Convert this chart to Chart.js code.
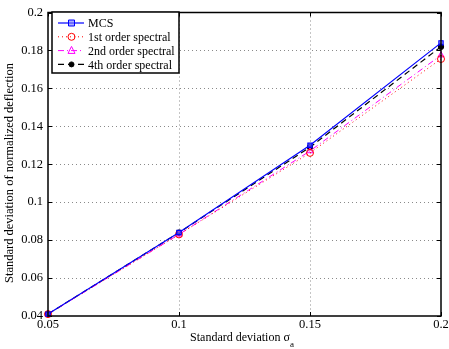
<!DOCTYPE html>
<html>
<head>
<meta charset="utf-8">
<script src="https://cdn.jsdelivr.net/npm/chart.js@4"></script>
<style>
  html, body { margin: 0; padding: 0; background: #fff; }
  #wrap { width: 449px; height: 349px; }
</style>
</head>
<body>
<div id="wrap"><canvas id="c" width="449" height="349"></canvas></div>
<script>
// data
const sigma = [0.05, 0.1, 0.15, 0.2];
const mcs = [0.041, 0.084, 0.130, 0.184];
const first = [0.041, 0.083, 0.126, 0.1755];
const second = [0.041, 0.083, 0.127, 0.1775];
const fourth = [0.041, 0.084, 0.129, 0.182];
const seriesNames = ['MCS', '1st order spectral', '2nd order spectral', '4th order spectral'];
const xTicks = [0.05, 0.1, 0.15, 0.2];
const yTicks = [0.04, 0.06, 0.08, 0.1, 0.12, 0.14, 0.16, 0.18, 0.2];

const FONT = '"Liberation Serif", "DejaVu Serif", serif';

const pts = (ys) => sigma.map((x, i) => ({ x: x, y: ys[i] }));

// dotted grid, drawn from the scales
const dottedGrid = {
  id: 'dottedGrid',
  beforeDatasetsDraw(chart) {
    const c = chart.ctx, a = chart.chartArea;
    const xs = chart.scales.x, ys = chart.scales.y;
    c.save();
    c.strokeStyle = '#8a8a8a';
    c.lineWidth = 1;
    c.setLineDash([1, 3]);
    xTicks.slice(1, -1).forEach(v => {
      const px = Math.round(xs.getPixelForValue(v)) + 0.5;
      c.beginPath(); c.moveTo(px, a.top); c.lineTo(px, a.bottom); c.stroke();
    });
    yTicks.slice(1, -1).forEach(v => {
      const py = Math.round(ys.getPixelForValue(v)) + 0.5;
      c.beginPath(); c.moveTo(a.left, py); c.lineTo(a.right, py); c.stroke();
    });
    c.setLineDash([]);
    // small inward ticks
    c.strokeStyle = '#000';
    xTicks.forEach(v => {
      const px = Math.round(xs.getPixelForValue(v)) + 0.5;
      c.beginPath(); c.moveTo(px, a.bottom); c.lineTo(px, a.bottom - 4); c.stroke();
      c.beginPath(); c.moveTo(px, a.top); c.lineTo(px, a.top + 4); c.stroke();
    });
    yTicks.forEach(v => {
      const py = Math.round(ys.getPixelForValue(v)) + 0.5;
      c.beginPath(); c.moveTo(a.left, py); c.lineTo(a.left + 4, py); c.stroke();
      c.beginPath(); c.moveTo(a.right, py); c.lineTo(a.right - 4, py); c.stroke();
    });
    c.restore();
  }
};

// legend box + frame + axis titles
const extras = {
  id: 'extras',
  afterDraw(chart) {
    const c = chart.ctx;
    const a = chart.chartArea;
    c.save();
    // frame
    c.strokeStyle = '#000';
    c.lineWidth = 1.5;
    c.strokeRect(a.left, a.top, a.right - a.left, a.bottom - a.top);

    // x title with subscript
    c.fillStyle = '#000';
    c.font = '12px ' + FONT;
    c.textBaseline = 'alphabetic';
    c.textAlign = 'left';
    const t = 'Standard deviation σ';
    const w = c.measureText(t).width;
    const x0 = 240 - w / 2;
    c.fillText(t, x0, 341);
    c.font = '9px ' + FONT;
    c.fillText('a', x0 + w, 347);

    // y title
    c.font = '12.5px ' + FONT;
    c.textAlign = 'center';
    c.textBaseline = 'middle';
    c.translate(10, 173);
    c.rotate(-Math.PI / 2);
    c.fillText('Standard deviation of normalized deflection', 0, 0);
    c.setTransform(1, 0, 0, 1, 0, 0);

    // legend
    const lx = 52, ly = 12, lw = 127, lh = 61;
    c.fillStyle = '#fff';
    c.fillRect(lx, ly, lw, lh);
    c.strokeStyle = '#000';
    c.lineWidth = 1.5;
    c.strokeRect(lx, ly, lw, lh);
    c.font = '12px ' + FONT;
    c.textAlign = 'left';
    c.textBaseline = 'middle';
    chart.data.datasets.forEach((ds, i) => {
      const yy = ly + 11 + i * 13.8;
      c.strokeStyle = ds.borderColor;
      c.lineWidth = ds.borderWidth;
      c.setLineDash(ds.borderDash || []);
      c.beginPath();
      c.moveTo(lx + 6, yy);
      c.lineTo(lx + 32, yy);
      c.stroke();
      c.setLineDash([]);
      // marker
      const mx = lx + 19.5;
      c.strokeStyle = ds.pointBorderColor;
      c.fillStyle = ds.pointBackgroundColor;
      c.lineWidth = 1;
      const r = ds.pointRadius;
      c.beginPath();
      if (ds.pointStyle === 'rect') {
        c.rect(mx - r, yy - r, 2 * r, 2 * r);
      } else if (ds.pointStyle === 'triangle') {
        c.moveTo(mx, yy - r * 1.2);
        c.lineTo(mx + r, yy + r * 0.8);
        c.lineTo(mx - r, yy + r * 0.8);
        c.closePath();
      } else {
        c.arc(mx, yy, r, 0, Math.PI * 2);
      }
      c.fill();
      c.stroke();
      c.fillStyle = '#000';
      c.fillText(seriesNames[i], lx + 36, yy + 1);
    });
    c.restore();
  }
};

new Chart(document.getElementById('c'), {
  type: 'line',
  data: {
    datasets: [
      {
        label: seriesNames[0], data: pts(mcs),
        borderColor: '#0000ff', borderWidth: 1.2,
        pointStyle: 'rect', pointRadius: 3,
        pointBorderColor: '#0000ff', pointBackgroundColor: 'rgba(120,120,255,0.6)'
      },
      {
        label: seriesNames[1], data: pts(first),
        borderColor: '#ff0000', borderWidth: 1, borderDash: [1, 3],
        pointStyle: 'circle', pointRadius: 3.5,
        pointBorderColor: '#ff0000', pointBackgroundColor: 'rgba(255,255,255,0)'
      },
      {
        label: seriesNames[2], data: pts(second),
        borderColor: '#ff00ff', borderWidth: 1, borderDash: [6, 3, 1, 3],
        pointStyle: 'triangle', pointRadius: 3.5,
        pointBorderColor: '#ff00ff', pointBackgroundColor: 'rgba(255,255,255,0)'
      },
      {
        label: seriesNames[3], data: pts(fourth),
        borderColor: '#000000', borderWidth: 1.2, borderDash: [6, 4],
        pointStyle: 'circle', pointRadius: 2.5,
        pointBorderColor: '#000000', pointBackgroundColor: '#000000'
      }
    ]
  },
  options: {
    responsive: false,
    animation: false,
    clip: false,
    layout: { padding: { left: 0, right: 0, top: 9, bottom: 0 } },
    plugins: { legend: { display: false }, tooltip: { enabled: false } },
    elements: { line: { tension: 0, fill: false } },
    scales: {
      x: {
        type: 'linear', min: 0.05, max: 0.2,
        afterFit: (s) => { s.height = 33; s.paddingRight = 8; },
        grid: { display: false, drawTicks: false },
        border: { display: false },
        ticks: {
          stepSize: 0.05, padding: 1, color: '#000',
          font: { family: FONT, size: 12.5 },
          callback: (v) => String(+v.toFixed(2))
        }
      },
      y: {
        type: 'linear', min: 0.04, max: 0.2,
        afterFit: (s) => { s.width = 48; },
        grid: { display: false, drawTicks: false },
        border: { display: false },
        ticks: {
          stepSize: 0.02, padding: 5, color: '#000',
          font: { family: FONT, size: 12.5 },
          callback: (v) => String(+v.toFixed(2))
        }
      }
    }
  },
  plugins: [dottedGrid, extras]
});
</script>
</body>
</html>
